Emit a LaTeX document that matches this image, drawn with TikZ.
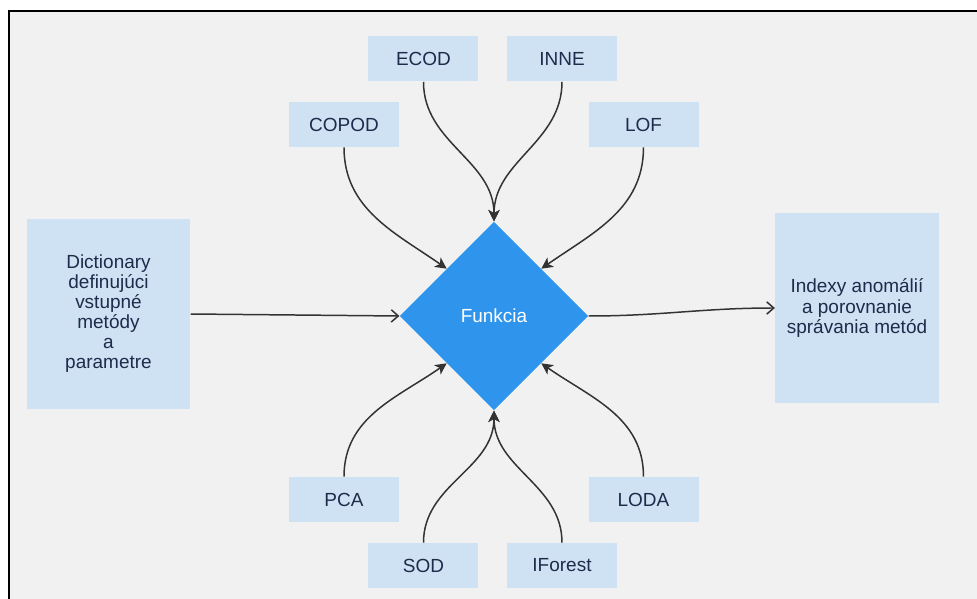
\documentclass[tikz,border=0pt]{standalone}
\usepackage{fontspec}
\setmainfont{Liberation Sans}
\usepackage{tikz}
\usetikzlibrary{shapes.geometric,arrows.meta}

\definecolor{bggray}{HTML}{F1F1F1}
\definecolor{boxblue}{HTML}{CFE2F3}
\definecolor{funcblue}{HTML}{2F95EC}
\definecolor{navy}{HTML}{1E2B4A}
\definecolor{wire}{HTML}{333333}

\tikzset{
  method/.style={fill=boxblue,text=navy,minimum width=2.2cm,minimum height=0.9cm,inner sep=0pt},
  io/.style={fill=boxblue,text=navy,minimum width=3.27cm,minimum height=3.8cm,align=center,inner sep=0pt},
  func/.style={diamond,fill=funcblue,text=white,minimum size=3.77cm,inner sep=0pt,aspect=1},
  feed/.style={draw=wire,line width=0.85pt,-{Stealth[length=6.5pt,width=6.5pt,inset=1.8pt]}},
  flow/.style={draw=wire,line width=0.85pt,-{Straight Barb[length=4pt,width=7pt]}}
}

\begin{document}
\begin{tikzpicture}[font=\fontsize{10.8pt}{11.4pt}\selectfont]
      \useasboundingbox (-9.88,-5.66) rectangle (9.66,6.32);
      \fill[bggray] (-9.70,-5.66) rectangle (9.66,6.10);
      \draw[line width=1.1pt] (-9.70,-5.66) -- (-9.70,6.10) -- (9.66,6.10);

      \node[func] (f) {Funkcia};
      \node[method,above of=f,xshift=-1.41cm,yshift=4.14cm] (ecod) {ECOD};
      \node[method,right of=ecod,xshift=1.77cm] (inne) {INNE};
      \node[method,below of=ecod,xshift=-1.59cm,yshift=-0.31cm] (copod) {COPOD};
      \node[method,below of=inne,xshift=1.63cm,yshift=-0.31cm] (lof) {LOF};
      \node[method,below of=f,xshift=-3cm,yshift=-2.67cm] (pca) {PCA};
      \node[method,below of=pca,xshift=1.59cm,yshift=-0.32cm] (sod) {SOD};
      \node[method,right of=sod,xshift=1.77cm] (iforest) {IForest};
      \node[method,above of=iforest,xshift=1.63cm,yshift=0.32cm] (loda) {LODA};
      \node[io,left of=f,xshift=-6.71cm,yshift=0.04cm] (dict) {Dictionary\\definujúci\\vstupné\\metódy\\a\\parametre};
      \node[io,right of=f,xshift=6.26cm,yshift=0.16cm] (out) {Indexy anomálií\\a porovnanie\\správania metód};

      \draw[feed] (copod.south) to[out=-90,in=145] (f.north west);
      \draw[feed] (ecod.south) to[out=-90,in=90] (f.north);
      \draw[feed] (inne.south) to[out=-90,in=90] (f.north);
      \draw[feed] (lof.south) to[out=-90,in=35] (f.north east);
      \draw[feed] (pca.north) to[out=90,in=-145] (f.south west);
      \draw[feed] (sod.north) to[out=90,in=-90] (f.south);
      \draw[feed] (iforest.north) to[out=90,in=-90] (f.south);
      \draw[feed] (loda.north) to[out=90,in=-35] (f.south east);
      \draw[flow] (dict.east) -- (f.west);
      \draw[flow] (f.east) to[out=0,in=180] (out.west);
    \end{tikzpicture}
\end{document}
